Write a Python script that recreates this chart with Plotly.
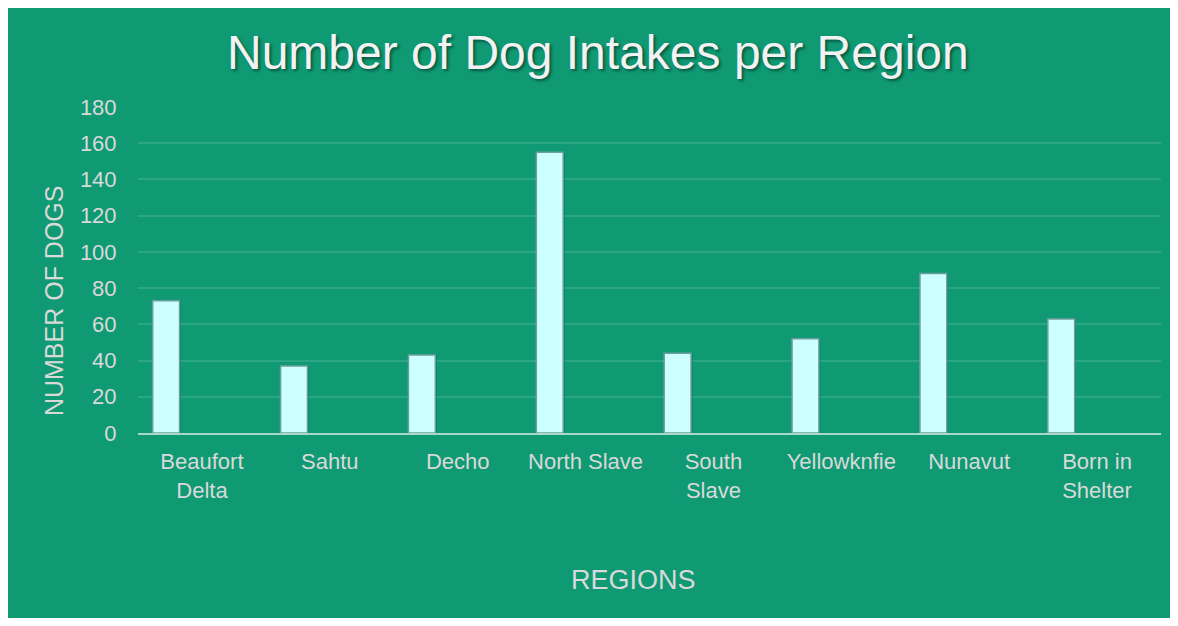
import plotly.graph_objects as go

regions = ["Beaufort<br>Delta", "Sahtu", "Decho", "North Slave", "South<br>Slave",
           "Yellowknfie", "Nunavut", "Born in<br>Shelter"]
dogs = [73, 37, 43, 155, 44, 52, 88, 63]
y_ticks = [0, 20, 40, 60, 80, 100, 120, 140, 160, 180]

BG = "#0F9A73"
TXT = "#D9D9D9"
FONT = "Liberation Sans, Arial, sans-serif"

fig = go.Figure()
# soft shadow behind bars
fig.add_trace(go.Bar(
    x=regions, y=dogs, width=0.215, offset=-0.38,
    marker=dict(color="rgba(0,40,30,0.35)", line=dict(width=0)),
    hoverinfo="skip", showlegend=False,
))
fig.add_trace(go.Bar(
    x=regions, y=dogs, width=0.21, offset=-0.385,
    marker=dict(color="#CCFFFF", line=dict(color="#6F9F9D", width=1.5)),
    name="Number of Dogs", showlegend=False,
))

fig.update_layout(
    width=1168, height=610,
    paper_bgcolor=BG, plot_bgcolor=BG,
    margin=dict(l=130, r=15, t=99, b=185),
    barmode="overlay",
    font=dict(family=FONT, color=TXT, size=22),
    title=dict(
        text="Number of Dog Intakes per Region",
        x=0.505, xanchor="center", y=0.927, yanchor="middle",
        font=dict(family=FONT, size=48, color="#F2F2F2",
                  shadow="2px 2px 3px rgba(0,0,0,0.45)"),
    ),
    xaxis=dict(
        showgrid=False, showline=True, linecolor="#A9D8CB", linewidth=2,
        ticks="outside", ticklen=8, tickcolor="rgba(0,0,0,0)",
        tickfont=dict(size=22, color=TXT, family=FONT),
    ),
    yaxis=dict(
        range=[0, 180], tickvals=y_ticks, showgrid=True, gridcolor="#2BA584",
        gridwidth=1.5, zeroline=False, showline=False,
        ticks="outside", ticklen=16, tickcolor="rgba(0,0,0,0)",
        tickfont=dict(size=22, color=TXT, family=FONT),
    ),
    annotations=[
        dict(text="REGIONS", xref="paper", yref="paper", x=0.484, y=-0.45,
             xanchor="center", yanchor="middle", showarrow=False,
             font=dict(size=27, color=TXT, family=FONT)),
        dict(text="NUMBER OF DOGS", xref="paper", yref="paper", x=-0.082, y=0.405,
             xanchor="center", yanchor="middle", showarrow=False, textangle=-90,
             font=dict(size=25, color=TXT, family=FONT)),
    ],
)

fig.write_html("out.html")
